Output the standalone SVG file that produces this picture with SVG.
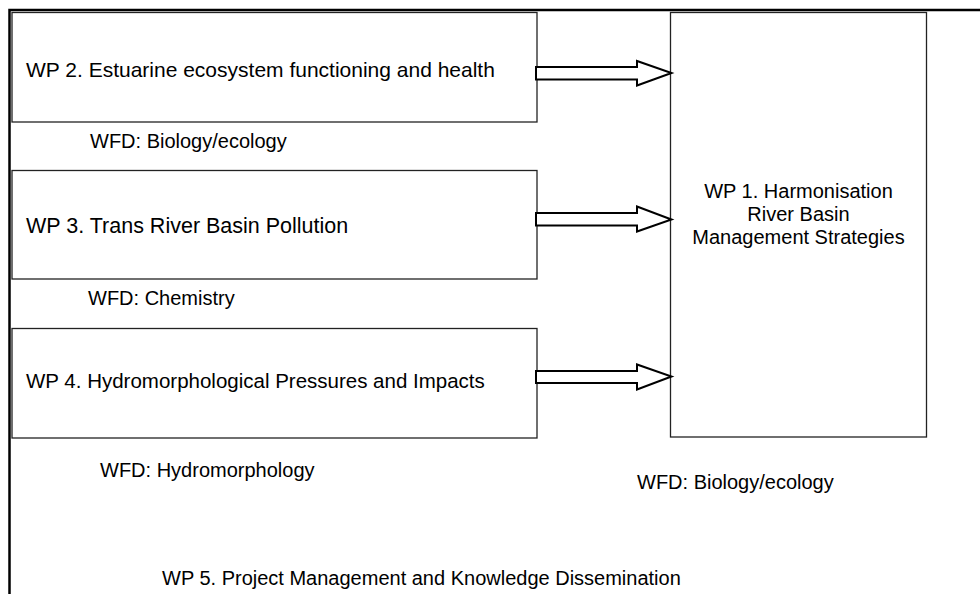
<svg xmlns="http://www.w3.org/2000/svg" width="980" height="594" viewBox="0 0 980 594">
<style>
text{font-family:"Liberation Sans",Arial,sans-serif;font-size:20px;fill:#000}
.box{fill:#fff;stroke:#222;stroke-width:1.3}
.arr{fill:#fff;stroke:#000;stroke-width:2;stroke-linejoin:miter}
.frame{stroke:#000;stroke-width:2.5;fill:none}
</style>
<rect width="980" height="594" fill="#fff"/>
<g id="frame">
<path class="frame" d="M9.5,594 V10 H980"/>
</g>
<g id="wp2">
<rect class="box" x="12" y="12.5" width="525" height="109.5"/>
<text x="26" y="77" style="font-size:21px">WP 2. Estuarine ecosystem functioning and health</text>
</g>
<g id="wp3">
<rect class="box" x="12" y="170.5" width="525" height="108.5"/>
<text x="26" y="233" style="font-size:21.5px">WP 3. Trans River Basin Pollution</text>
</g>
<g id="wp4">
<rect class="box" x="12" y="328.5" width="525" height="109.5"/>
<text x="26" y="388" style="font-size:20.5px">WP 4. Hydromorphological Pressures and Impacts</text>
</g>
<g id="wp1">
<rect class="box" x="670.5" y="12.5" width="256" height="424.5"/>
<text x="798.5" y="198" text-anchor="middle">WP 1. Harmonisation</text>
<text x="798.5" y="221" text-anchor="middle">River Basin</text>
<text x="798.5" y="244" text-anchor="middle">Management Strategies</text>
</g>
<g id="labels">
<text x="90" y="148">WFD: Biology/ecology</text>
<text x="88" y="305">WFD: Chemistry</text>
<text x="100" y="477">WFD: Hydromorphology</text>
<text x="637" y="489">WFD: Biology/ecology</text>
</g>
<g id="wp5">
<text x="162" y="585">WP 5. Project Management and Knowledge Dissemination</text>
</g>
<g id="connectors">
<path class="arr" d="M536,67 H637 V61 L671.5,73 L637,85.5 V79.5 H536 Z"/>
<path class="arr" d="M536,213 H637 V206.5 L671.5,219.5 L637,231.5 V225.5 H536 Z"/>
<path class="arr" d="M536,371 H637 V364.5 L671.5,376.5 L637,389.5 V383 H536 Z"/>
</g>
</svg>
